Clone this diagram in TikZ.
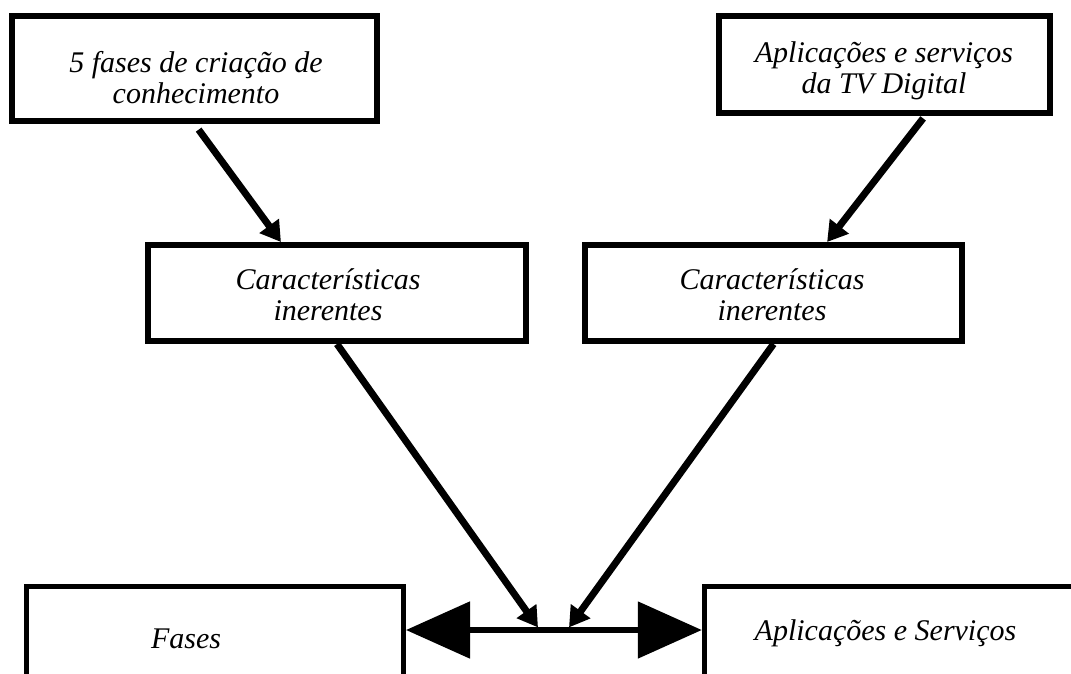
\documentclass[tikz,border=0pt]{standalone}
\usepackage{fontspec}
\setmainfont{Liberation Serif}
\usetikzlibrary{arrows.meta,calc}
\begin{document}
\begin{tikzpicture}[x=1pt,y=-1pt,
  box/.style={draw, line width=6pt, inner sep=0pt},
  openbox/.style={draw, line width=5.5pt, inner sep=0pt},
  lbl/.style={font=\fontsize{30}{31}\selectfont\itshape, align=center, inner sep=0pt},
  conn/.style={line width=7pt, -{Triangle[length=20pt,width=23pt]}},
  dbl/.style={line width=5.3pt, {Triangle[length=64pt,width=56pt]}-{Triangle[length=64pt,width=56pt]}}]
\useasboundingbox (0,0) rectangle (1071,673);
\fill[white] (0,0) rectangle (1071,673);
\clip (0,0) rectangle (1071,673);

% top row
\node[box, minimum width=365pt, minimum height=105pt] (tl) at (194.5,68.5) {};
\node[lbl] (tlt) at (196,77.4) {5 fases de criação de\\conhecimento};
\node[box, minimum width=331pt, minimum height=97pt] (tr) at (884.5,64.5) {};
\node[lbl] (trt) at (884,70.9) {Aplicações e serviços\\da TV Digital};

% middle row
\node[box, minimum width=378pt, minimum height=96pt] (ml) at (337,293) {};
\node[lbl] (mlt) at (328,294.8) {Características\\inerentes};
\node[box, minimum width=377pt, minimum height=96pt] (mr) at (773.5,293) {};
\node[lbl] (mrt) at (772,294.8) {Características\\inerentes};

% bottom row (boxes run past the lower and right edges)
\node[openbox, minimum width=376.6pt, minimum height=213.5pt] (bl) at (215,693.25) {};
\node[lbl, anchor=base] (blt) at (186,648) {Fases};
\node[openbox, minimum width=495.5pt, minimum height=213.5pt] (br) at (952.25,693.25) {};
\node[lbl, anchor=base] (brt) at (885.5,640) {Aplicações e Serviços};

% meeting points on the horizontal double arrow
\coordinate (mid) at (554,630);
\coordinate (j1) at (538,627.4);
\coordinate (j2) at (569,627.4);

% connectors
\draw[conn, shorten <=7pt] (tl.south) -- ($(ml.north west)!0.354!(ml.north east)$);
\draw[conn, shorten <=3pt] ($(tr.south west)!0.62!(tr.south east)$) -- ($(mr.north west)!0.64!(mr.north east)$);
\draw[conn] (ml.south) -- (j1);
\draw[conn] (mr.south) -- (j2);
\draw[dbl] (bl.east |- mid) -- (br.west |- mid);
\end{tikzpicture}
\end{document}
